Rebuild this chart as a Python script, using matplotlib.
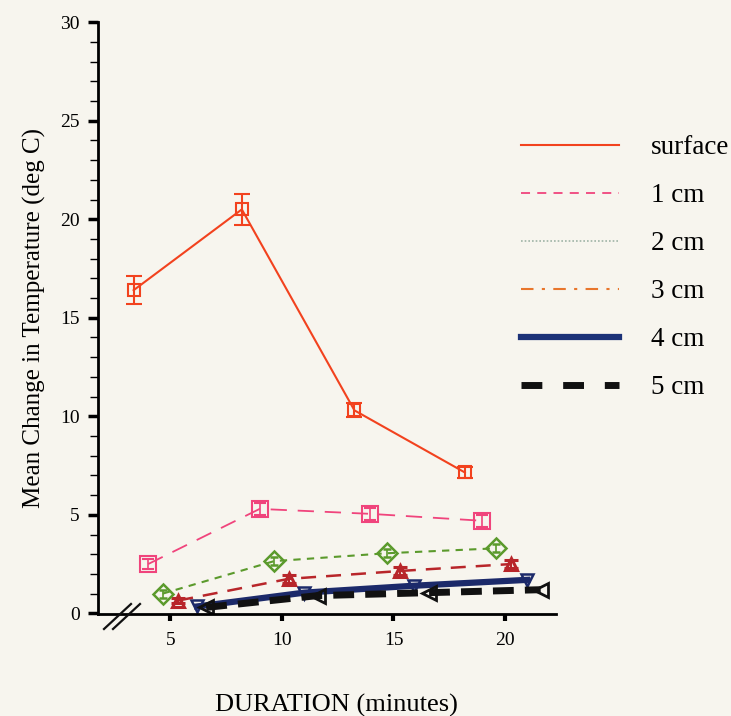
import numpy as np
import matplotlib.pyplot as plt
from matplotlib.lines import Line2D
from matplotlib.ticker import MultipleLocator

plt.rcParams['font.family'] = ['Liberation Serif', 'DejaVu Serif']

# Mean temperature change (deg C) against heating duration (minutes)
labels = ['surface', '1 cm', '2 cm', '3 cm', '4 cm', '5 cm']

surf_x = [3.35, 8.2, 13.25, 18.2]
surf_y = [16.4, 20.5, 10.3, 7.15]
surf_err = [0.7, 0.8, 0.35, 0.3]

cm1_x = [4.0, 9.0, 13.95, 18.95]
cm1_y = [2.5, 5.3, 5.05, 4.7]
cm1_err = [0.25, 0.3, 0.3, 0.3]

cm2_x = [4.65, 9.65, 14.7, 19.6]
cm2_y = [1.0, 2.65, 3.05, 3.3]
cm2_err = [0.2, 0.2, 0.2, 0.2]

cm3_x = [5.35, 10.3, 15.3, 20.25]
cm3_y = [0.65, 1.75, 2.15, 2.5]
cm3_err = [0.15, 0.2, 0.2, 0.2]

cm4_x = [6.2, 11.0, 15.9, 21.0]
cm4_y = [0.35, 1.05, 1.4, 1.7]

cm5_x = [6.6, 11.6, 16.6, 21.6]
cm5_y = [0.3, 0.9, 1.05, 1.2]

bg = '#f7f5ee'
fig = plt.figure(figsize=(7.31, 7.16), dpi=100, facecolor=bg)
ax = fig.add_axes([0.134, 0.142, 0.627, 0.827], facecolor=bg)

ax.errorbar(surf_x, surf_y, yerr=surf_err, color='#f2421e', lw=1.5,
            marker='s', ms=9, mfc='none', mew=1.5, capsize=6, elinewidth=1.5)
ax.errorbar(cm1_x, cm1_y, yerr=cm1_err, color='#f0447c', lw=1.3,
            ls=(0, (9, 6)), marker='s', ms=12, mfc='none', mew=1.5,
            capsize=4, elinewidth=1.2)
ax.errorbar(cm2_x, cm2_y, yerr=cm2_err, color='#5b9a2c', lw=1.5,
            ls=(0, (3.5, 3)), marker='D', ms=10, mfc='none', mew=1.8,
            capsize=3, elinewidth=1.2)
ax.errorbar(cm3_x, cm3_y, yerr=cm3_err, color='#b8262a', lw=1.8,
            ls=(0, (6, 4)), marker='^', ms=9, mfc='none', mew=2.2,
            capsize=5, elinewidth=1.5)
ax.plot(cm4_x, cm4_y, color='#1c2a6a', lw=4.5, marker='v', ms=9,
        mfc='none', mew=1.8)
ax.plot(cm5_x, cm5_y, color='#111111', lw=5, ls=(0, (3, 1.6)), marker='<',
        ms=10, mfc='none', mew=2)

ax.set_xlim(1.75, 22.3)
ax.set_ylim(-0.05, 30)
ax.set_xticks([5, 10, 15, 20])
ax.set_yticks([0, 5, 10, 15, 20, 25, 30])
ax.yaxis.set_minor_locator(MultipleLocator(1))
ax.tick_params(axis='y', which='major', length=7, width=2.5, labelsize=14,
               pad=6)
ax.tick_params(axis='y', which='minor', length=6, width=1)
ax.tick_params(axis='x', which='major', length=5, width=3, labelsize=14,
               pad=8)
for s in ['top', 'right']:
    ax.spines[s].set_visible(False)
for s in ['left', 'bottom']:
    ax.spines[s].set_linewidth(2)

ax.set_xlabel('DURATION (minutes)', fontsize=19)
ax.xaxis.set_label_coords(0.52, -0.135)
ax.set_ylabel('Mean Change in Temperature (deg C)', fontsize=18, labelpad=10)

# axis break mark at the origin
for dx in (0, 9):
    fig.add_artist(Line2D([(104 + dx) / 731, (131 + dx) / 731],
                          [1 - 629 / 716, 1 - 604 / 716],
                          transform=fig.transFigure, color='#111111', lw=1.6))

handles = [
    Line2D([], [], color='#f2421e', lw=1.5),
    Line2D([], [], color='#f0447c', lw=1.3, ls=(0, (5, 4))),
    Line2D([], [], color='#9fb3a6', lw=1.2, ls=(0, (1, 1.2))),
    Line2D([], [], color='#e8762c', lw=1.5, ls=(0, (6, 4, 1.5, 4))),
    Line2D([], [], color='#1c3277', lw=4.5),
    Line2D([], [], color='#111111', lw=5, ls=(0, (3, 3))),
]
fig.legend(handles, labels, loc='upper left',
           bbox_to_anchor=(521 / 731, 1 - 135 / 716), frameon=False,
           fontsize=19.5, handlelength=3.6, handletextpad=1.2,
           labelspacing=0.85, borderpad=0, borderaxespad=0)

fig.savefig('out.png', dpi=100, facecolor=bg)
